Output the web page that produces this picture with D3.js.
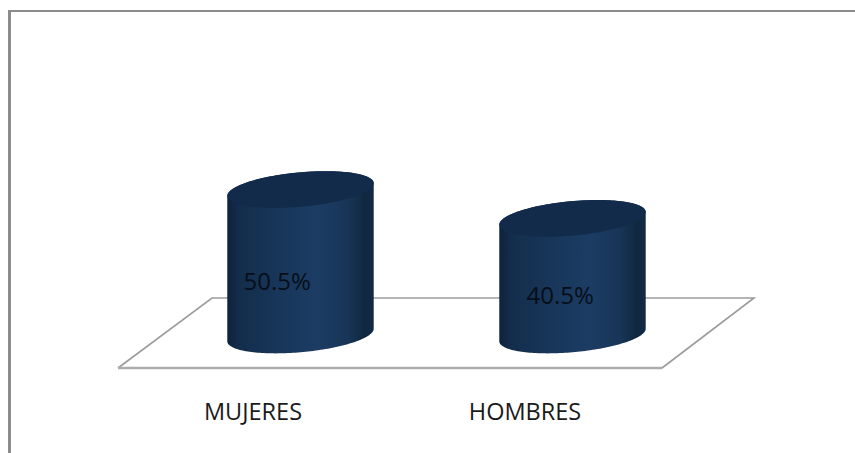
<!DOCTYPE html>
<html>
<head>
<meta charset="utf-8">
<script src="https://cdn.jsdelivr.net/npm/d3@7"></script>
<style>
html, body { margin: 0; padding: 0; background: #fff; }
svg { display: block; }
</style>
</head>
<body>
<svg id="chart" width="855" height="453"></svg>
<script>
// Chart values
const categories = ["MUJERES", "HOMBRES"];
const percentages = [50.5, 40.5];

const svg = d3.select("#chart");
const defs = svg.append("defs");

// Horizontal shading that gives each cylinder its roundness
const shade = defs.append("linearGradient").attr("id", "cylinderShade");
[[0, "#0e233c"], [0.08, "#132d4c"], [0.35, "#183659"], [0.62, "#1c3c64"],
 [0.82, "#183557"], [0.94, "#10273f"], [1, "#122a45"]].forEach(([o, c]) =>
  shade.append("stop").attr("offset", o).attr("stop-color", c));

// Outer chart frame: only top and left edges are visible
svg.append("path")
  .attr("d", "M855,11H8")
  .attr("fill", "none").attr("stroke", "#8c8c8c").attr("stroke-width", 2);
svg.append("path")
  .attr("d", "M9.5,10V453")
  .attr("fill", "none").attr("stroke", "#8c8c8c").attr("stroke-width", 3);

// Scales: the band centres locate the cylinders on the floor's mid-depth
const x = d3.scaleBand().domain(categories).range([164.5, 708.5]);
const y = d3.scaleLinear().domain([0, 100]).range([335, 47]);

// Floor plane in oblique projection
const floorShift = 46.5, floorDepth = 92, floorRise = 70, floorY = 368;
const frontLeft = x.range()[0] - floorShift;
const frontRight = x.range()[1] - floorShift;
svg.append("path")
  .attr("d", d3.line()([
    [frontRight, floorY],
    [frontRight + floorDepth, floorY - floorRise],
    [frontLeft + floorDepth + 2, floorY - floorRise],
    [frontLeft, floorY]
  ]))
  .attr("fill", "#fff").attr("stroke", "#9c9c9c").attr("stroke-width", 1.6);
svg.append("path")
  .attr("d", d3.line()([[frontLeft, floorY], [frontRight, floorY]]))
  .attr("fill", "none").attr("stroke", "#adadad").attr("stroke-width", 2.4);

// Tilted ellipse outline used for the cylinder caps
const rx = 73.5, ry = 17.2, tilt = -5.2 * Math.PI / 180;
function capPoint(cx, cy, t) {
  return [
    cx + rx * Math.cos(t) * Math.cos(tilt) - ry * Math.sin(t) * Math.sin(tilt),
    cy + rx * Math.cos(t) * Math.sin(tilt) + ry * Math.sin(t) * Math.cos(tilt)
  ];
}
const step = Math.PI / 90;
const angles = d3.range(0, 2 * Math.PI, step);
const tExtreme = Math.atan2(-ry * Math.sin(tilt), rx * Math.cos(tilt));
const line = d3.line();
const centre = c => x(c) + x.bandwidth() / 2;

const bars = svg.selectAll("g.cylinder")
  .data(categories.map((c, i) => ({ c, v: percentages[i] })))
  .join("g").attr("class", "cylinder");

// Side wall: lower half of the base cap joined to the upper half of the top cap
bars.append("path")
  .attr("d", d => {
    const cx = centre(d.c), base = y(0), top = y(d.v);
    const pts = [];
    for (const t of d3.range(tExtreme, tExtreme + Math.PI + 0.001, step)) pts.push(capPoint(cx, base, t));
    for (const t of d3.range(tExtreme + Math.PI, tExtreme + 2 * Math.PI + 0.001, step)) pts.push(capPoint(cx, top, t));
    return line(pts) + "Z";
  })
  .attr("fill", "url(#cylinderShade)");

// Top cap
bars.append("path")
  .attr("d", d => line(angles.map(t => capPoint(centre(d.c), y(d.v), t))) + "Z")
  .attr("fill", "#132b4a");

// Value labels sit inside each cylinder
const labelOffsetX = [-57, -46];
const labelBaseline = [289.5, 304];
bars.append("text")
  .attr("x", (d, i) => centre(d.c) + labelOffsetX[i])
  .attr("y", (d, i) => labelBaseline[i])
  .attr("font-family", "'Open Sans', 'Noto Sans', sans-serif")
  .attr("font-size", 24)
  .attr("fill", "#060e18")
  .text(d => d.v.toFixed(1) + "%");

// Category labels run along the floor's front edge
svg.selectAll("text.category")
  .data(categories)
  .join("text")
  .attr("class", "category")
  .attr("x", d => centre(d) - 47.5)
  .attr("y", 420)
  .attr("text-anchor", "middle")
  .attr("font-family", "'Open Sans', 'Noto Sans', sans-serif")
  .attr("font-size", 23.5)
  .attr("fill", "#1a1a1a")
  .text(d => d);
</script>
</body>
</html>
